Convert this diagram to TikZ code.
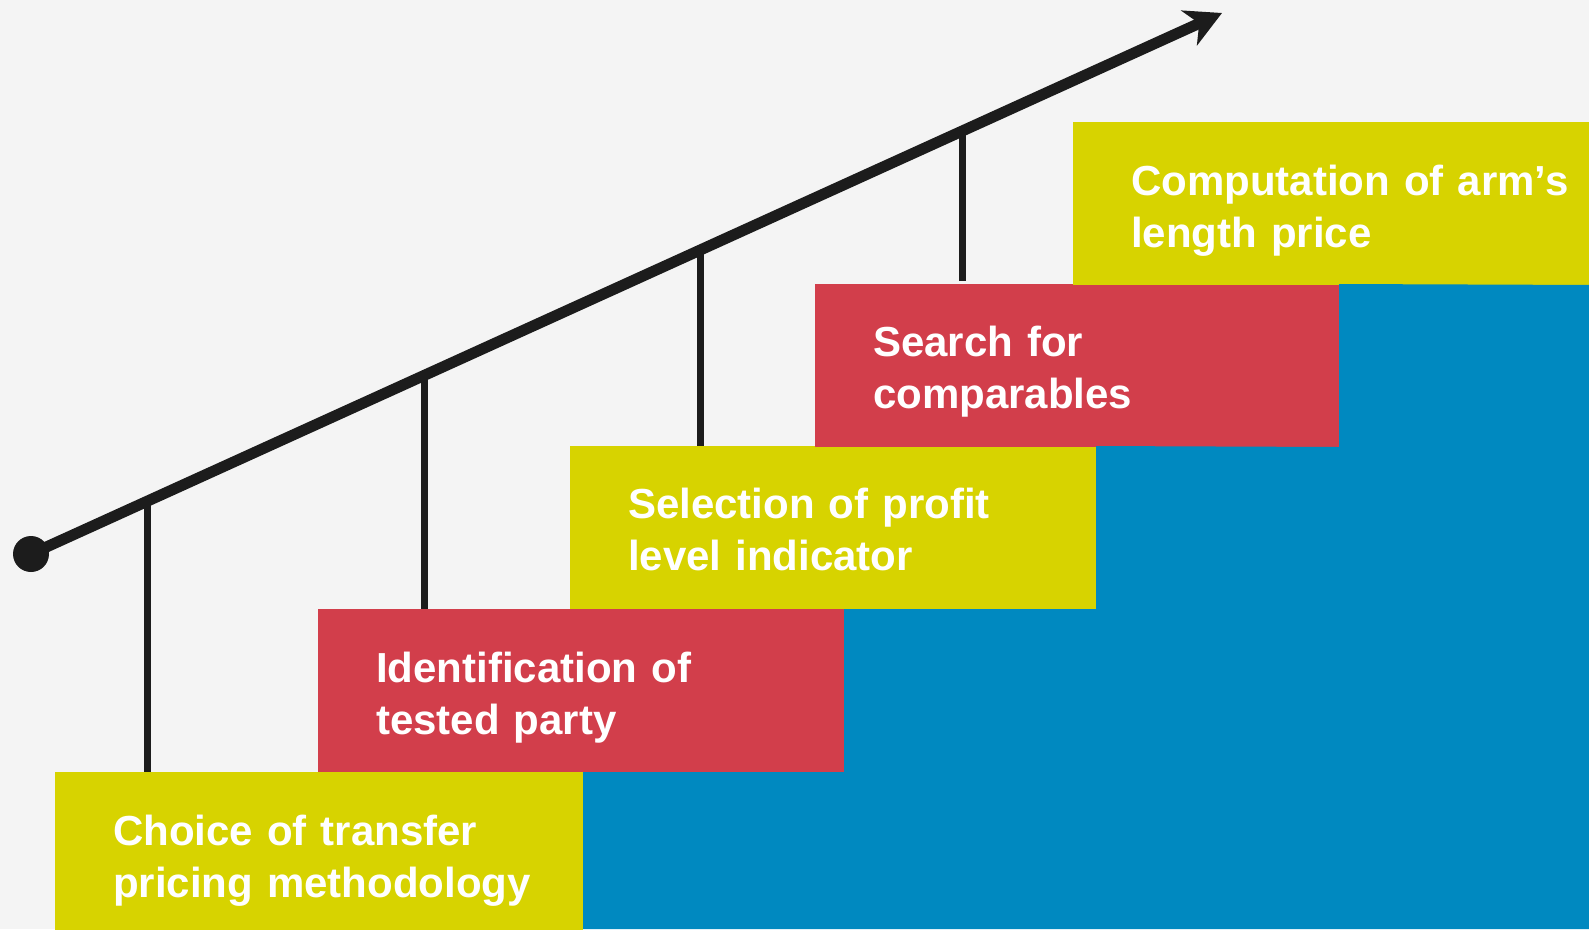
\documentclass[tikz,border=0pt]{standalone}
\usepackage{fontspec}
\setmainfont{Liberation Sans}
\usepackage{xcolor}
\usetikzlibrary{positioning, arrows.meta, calc}
\definecolor{stepyellow}{HTML}{D7D300}
\definecolor{stepred}{HTML}{D23E4B}
\definecolor{stepblue}{HTML}{0089C0}
\definecolor{pagegray}{HTML}{F4F4F4}
\definecolor{inkblack}{HTML}{1C1C1C}

\begin{document}
\begin{tikzpicture}[
    x=1pt, y=-1pt,
    stepbox/.style={rectangle, anchor=north west, minimum width=526pt, minimum height=163pt, inner sep=0pt, outer sep=0pt},
    steplabel/.style={anchor=base west, inner sep=0pt, text width=480pt, align=left, text=white, font=\bfseries\fontsize{42}{52}\selectfont},
    risebar/.style={draw=inkblack, line width=7pt}
]
\path[use as bounding box, fill=pagegray] (0,0) rectangle (1589,929);

% the five steps
\node[stepbox, fill=stepyellow, minimum width=528pt] (b1) at (55,772) {};
\node[stepbox, fill=stepred]    (b2) at (318,609) {};
\node[stepbox, fill=stepyellow] (b3) at (570,446) {};
\node[stepbox, fill=stepred, minimum width=524pt] (b4) at (815,284) {};
\node[stepbox, fill=stepyellow] (b5) at (1073,122) {};

% staircase underneath
\fill[stepblue] (b1.north east) -- (b2.south east) -- (b2.north east) -- (b3.south east)
    -- (b3.north east) -- (b4.south east) -- (b4.north east) -- (b5.south east)
    -- (b5.south east |- 0,929) -- (b1.north east |- 0,929) -- cycle;

\node[steplabel] (t1) at ([shift={(58,73)}]b1.north west) {Choice of transfer\\pricing methodology};
\node[steplabel] (t2) at ([shift={(58,73)}]b2.north west) {Identification of\\tested party};
\node[steplabel] (t3) at ([shift={(58,72)}]b3.north west) {Selection of profit\\level indicator};
\node[steplabel] (t4) at ([shift={(58,72)}]b4.north west) {Search for\\comparables};
\node[steplabel] (t5) at ([shift={(58,73)}]b5.north west) {Computation of arm’s\\length price};

% rising arrow
\node[circle, fill=inkblack, minimum size=36pt, inner sep=0pt] (dot) at (31,554) {};
\coordinate (tip) at (1222,13);
\coordinate (k1) at ($(dot.center)!0.0982!(tip)$);
\coordinate (k2) at ($(dot.center)!0.3300!(tip)$);
\coordinate (k3) at ($(dot.center)!0.5617!(tip)$);
\coordinate (k4) at ($(dot.center)!0.7817!(tip)$);
\draw[risebar] (k1) -- (k1 |- b1.north);
\draw[risebar] (k2) -- (k2 |- b2.north);
\draw[risebar] (k3) -- (k3 |- b3.north);
\draw[risebar, shorten >=3pt] (k4) -- (k4 |- b4.north);
\draw[inkblack, line width=11pt, -{Stealth[length=36pt, width=38pt, inset=11pt]}] (dot.center) -- (tip);
\end{tikzpicture}
\end{document}
